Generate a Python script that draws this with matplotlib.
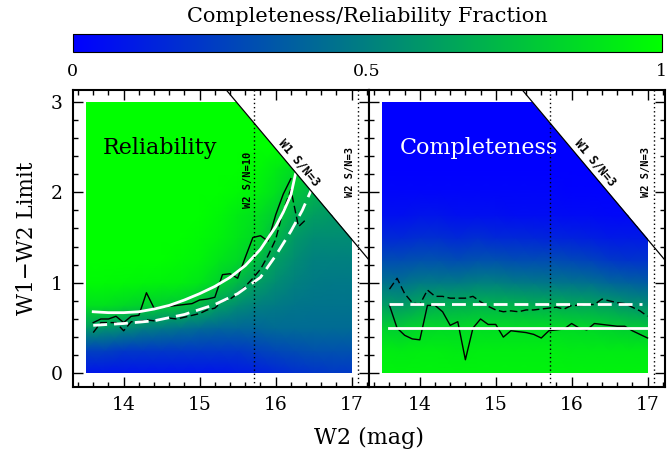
import numpy as np
import matplotlib
matplotlib.use("Agg")
import matplotlib.pyplot as plt
from matplotlib.colors import LinearSegmentedColormap
from matplotlib.patches import Polygon
from matplotlib.ticker import MultipleLocator
from matplotlib.cm import ScalarMappable

# ---- data ----
# heatmap nodes (W2 mag, W1-W2 limit), values in percent
node_x = [13.5, 13.75, 14.0, 14.25, 14.5, 14.75, 15.0, 15.25, 15.5, 15.75, 16.0, 16.25, 16.5, 16.75, 17.0]
node_y = [0.0, 0.25, 0.5, 0.75, 1.0, 1.25, 1.5, 1.75, 2.0, 2.25, 2.5, 2.75, 3.0]

rel_grid = [
    [8, 8, 8, 8, 8, 8, 8, 8, 10, 12, 15, 18, 20, 22, 22],
    [25, 25, 22, 22, 22, 22, 22, 22, 22, 25, 28, 30, 32, 32, 32],
    [60, 58, 55, 50, 48, 45, 42, 40, 40, 40, 42, 42, 42, 42, 42],
    [88, 88, 85, 82, 80, 78, 72, 62, 55, 50, 48, 46, 45, 45, 45],
    [98, 98, 97, 96, 95, 94, 90, 82, 72, 62, 55, 50, 48, 47, 47],
    [100, 100, 100, 100, 100, 98, 96, 90, 85, 75, 62, 55, 50, 50, 50],
    [100, 100, 100, 100, 100, 100, 98, 95, 90, 85, 72, 60, 55, 55, 55],
    [100, 100, 100, 100, 100, 100, 100, 97, 92, 88, 80, 68, 62, 60, 60],
    [100, 100, 100, 100, 100, 100, 100, 100, 98, 95, 88, 78, 70, 65, 65],
    [100, 100, 100, 100, 100, 100, 100, 100, 100, 98, 92, 85, 75, 70, 70],
    [100, 100, 100, 100, 100, 100, 100, 100, 100, 100, 100, 100, 100, 100, 100],
    [100, 100, 100, 100, 100, 100, 100, 100, 100, 100, 100, 100, 100, 100, 100],
    [100, 100, 100, 100, 100, 100, 100, 100, 100, 100, 100, 100, 100, 100, 100],
]

comp_grid = [
    [95, 95, 95, 95, 95, 95, 95, 95, 95, 95, 95, 95, 95, 95, 95],
    [93, 92, 93, 93, 92, 93, 93, 93, 93, 93, 92, 92, 92, 92, 92],
    [82, 80, 84, 85, 85, 86, 86, 86, 86, 86, 85, 84, 82, 80, 78],
    [62, 60, 66, 68, 68, 70, 70, 70, 68, 68, 66, 65, 62, 58, 56],
    [45, 44, 48, 48, 48, 50, 50, 48, 47, 46, 45, 44, 40, 38, 36],
    [30, 30, 32, 32, 30, 32, 32, 30, 30, 30, 28, 26, 22, 20, 20],
    [16, 16, 18, 18, 16, 18, 16, 16, 15, 14, 13, 12, 10, 10, 10],
    [6, 6, 8, 8, 6, 6, 6, 5, 5, 5, 4, 4, 3, 3, 3],
    [2, 2, 2, 2, 2, 2, 2, 2, 2, 2, 1, 1, 1, 1, 1],
    [0, 0, 0, 0, 0, 0, 0, 0, 0, 0, 0, 0, 0, 0, 0],
    [0, 0, 0, 0, 0, 0, 0, 0, 0, 0, 0, 0, 0, 0, 0],
    [0, 0, 0, 0, 0, 0, 0, 0, 0, 0, 0, 0, 0, 0, 0],
    [0, 0, 0, 0, 0, 0, 0, 0, 0, 0, 0, 0, 0, 0, 0],
]

# measured limits (black lines), one point per 0.1 mag bin
rel_x = [13.6, 13.7, 13.8, 13.9, 14.0, 14.1, 14.2, 14.3, 14.4, 14.5, 14.6, 14.7, 14.8, 14.9,
         15.0, 15.1, 15.2, 15.3, 15.4, 15.5, 15.6, 15.7, 15.8, 15.9, 16.0, 16.1, 16.2]
rel_solid = [0.56, 0.60, 0.60, 0.63, 0.56, 0.63, 0.64, 0.89, 0.72, 0.73, 0.74, 0.75, 0.76, 0.77,
             0.81, 0.82, 0.84, 1.09, 1.10, 1.05, 1.28, 1.50, 1.52, 1.46, 1.75, 1.98, 2.15]
rel_dx = [13.6, 13.7, 13.8, 13.9, 14.0, 14.1, 14.2, 14.3, 14.4, 14.5, 14.6, 14.7, 14.8, 14.9, 15.0,
          15.1, 15.2, 15.3, 15.4, 15.5, 15.6, 15.7, 15.8, 15.9, 16.0, 16.1, 16.2, 16.3, 16.4]
rel_dashed = [0.45, 0.56, 0.56, 0.56, 0.47, 0.57, 0.57, 0.59, 0.58, 0.60, 0.61, 0.60, 0.62, 0.64, 0.66,
              0.70, 0.72, 0.80, 0.82, 0.88, 0.96, 1.05, 1.15, 1.30, 1.48, 1.80, 2.03, 1.62, 1.70]

comp_x = [13.6, 13.7, 13.8, 13.9, 14.0, 14.1, 14.2, 14.3, 14.4, 14.5, 14.6, 14.7, 14.8, 14.9, 15.0, 15.1, 15.2, 15.3,
          15.4, 15.5, 15.6, 15.7, 15.8, 15.9, 16.0, 16.1, 16.2, 16.3, 16.4, 16.5, 16.6, 16.7, 16.8, 16.9, 17.0]
comp_solid = [0.75, 0.50, 0.42, 0.38, 0.37, 0.75, 0.75, 0.68, 0.53, 0.57, 0.15, 0.50, 0.60, 0.54, 0.54, 0.40, 0.47, 0.46,
              0.45, 0.43, 0.39, 0.47, 0.48, 0.49, 0.55, 0.50, 0.48, 0.55, 0.54, 0.53, 0.52, 0.52, 0.47, 0.43, 0.39]
comp_dashed = [0.93, 1.05, 0.88, 0.78, 0.76, 0.92, 0.85, 0.85, 0.83, 0.83, 0.83, 0.85, 0.79, 0.74, 0.70, 0.68, 0.69, 0.68,
               0.70, 0.70, 0.71, 0.72, 0.73, 0.71, 0.75, 0.75, 0.76, 0.76, 0.82, 0.80, 0.78, 0.77, 0.73, 0.69, 0.63]

# adopted limits (white lines)
fit_x = [13.6, 13.8, 14.0, 14.2, 14.4, 14.6, 14.8, 15.0, 15.2, 15.4, 15.6, 15.8, 16.0, 16.1, 16.2, 16.26]
fit_solid = [0.68, 0.67, 0.67, 0.68, 0.71, 0.75, 0.81, 0.88, 0.96, 1.06, 1.19, 1.37, 1.62, 1.78, 1.97, 2.2]
fitd_x = [13.6, 14.0, 14.4, 14.8, 15.2, 15.5, 15.8, 16.0, 16.2, 16.35, 16.47]
fit_dashed = [0.53, 0.55, 0.58, 0.65, 0.76, 0.88, 1.06, 1.30, 1.57, 1.80, 2.03]
comp_lim_x = [13.6, 17.0]
comp_lim_solid = [0.50, 0.50]
comp_limd_x = [13.6, 16.93]
comp_lim_dashed = [0.77, 0.77]

w1_limit = 18.48      # W1 S/N=3: W1-W2 = w1_limit - W2
w2_sn10 = 15.72
w2_sn3 = 17.08

plt.rcParams['font.family'] = ['DejaVu Serif']
cmap = LinearSegmentedColormap.from_list('bg', ['#0000ff', '#00ff00'])
small = dict(family='DejaVu Sans Mono', fontweight='bold', zorder=5)

fig = plt.figure(figsize=(6.67, 4.59), dpi=100)
ax1 = fig.add_axes([0.109, 0.1575, 0.4445, 0.6465])
ax2 = fig.add_axes([0.5532, 0.1575, 0.4438, 0.6465])
cax = fig.add_axes([0.109, 0.8867, 0.883, 0.0392])

X, Y = np.meshgrid(node_x, node_y)
clip = [(13.5, 0.0), (17.0, 0.0), (17.0, w1_limit - 17.0), (w1_limit - 3.0, 3.0), (13.5, 3.0)]
line_x = np.array([13.0, 17.5])

for ax, grid in [(ax1, rel_grid), (ax2, comp_grid)]:
    mesh = ax.pcolormesh(X, Y, np.array(grid) / 100.0, cmap=cmap, vmin=0, vmax=1,
                         shading='gouraud', zorder=1)
    poly = Polygon(clip, closed=True, transform=ax.transData)
    mesh.set_clip_path(poly)
    ax.plot(line_x, w1_limit - line_x, color='black', lw=0.9, zorder=4)
    ax.axvline(w2_sn10, color='black', ls=(0, (1, 2)), lw=1.0, zorder=4)
    ax.axvline(w2_sn3, color='black', ls=(0, (1, 2)), lw=1.0, zorder=4)
    ax.set_xlim(13.33, 17.23)
    ax.set_ylim(-0.148, 3.13)
    ax.xaxis.set_major_locator(MultipleLocator(1))
    ax.xaxis.set_minor_locator(MultipleLocator(0.2))
    ax.yaxis.set_major_locator(MultipleLocator(1))
    ax.yaxis.set_minor_locator(MultipleLocator(0.2))
    ax.tick_params(which='both', direction='in', top=True, right=True, width=1)
    ax.tick_params(which='major', length=7.5, labelsize=13.5, pad=7)
    ax.tick_params(which='minor', length=3.8)
    for s in ax.spines.values():
        s.set_linewidth(1.5)
    ax.text(16.98, 1.95, 'W2 S/N=3', rotation=90, ha='center', va='bottom', fontsize=7.5, **small)
    ax.text(16.31, 2.33, 'W1 S/N=3', rotation=-50, ha='center', va='center',
            rotation_mode='anchor', fontsize=8.5, **small)

ax2.tick_params(labelleft=False)

# reliability panel
ax1.text(15.63, 1.83, 'W2 S/N=10', rotation=90, ha='center', va='bottom', fontsize=7.5, **small)
ax1.plot(rel_x, rel_solid, color='black', lw=1.0, zorder=3)
ax1.plot(rel_dx, rel_dashed, color='black', lw=1.0, ls=(0, (5.5, 2.5)), zorder=3)
ax1.plot(fit_x, fit_solid, color='white', lw=2.0, zorder=3)
ax1.plot(fitd_x, fit_dashed, color='white', lw=2.0, ls=(0, (5, 2.5)), zorder=3)
ax1.text(13.73, 2.49, 'Reliability', color='black', fontsize=16, ha='left', va='center')

# completeness panel
ax2.plot(comp_x, comp_solid, color='black', lw=1.0, zorder=3)
ax2.plot(comp_x, comp_dashed, color='black', lw=1.0, ls=(0, (5.5, 2.5)), zorder=3)
ax2.plot(comp_lim_x, comp_lim_solid, color='white', lw=2.0, zorder=3)
ax2.plot(comp_limd_x, comp_lim_dashed, color='white', lw=2.0, ls=(0, (5, 2.5)), zorder=3)
ax2.text(13.74, 2.49, 'Completeness', color='white', fontsize=16, ha='left', va='center')

# colour bar
cb = fig.colorbar(ScalarMappable(cmap=cmap, norm=plt.Normalize(0, 1)), cax=cax, orientation='horizontal')
cb.set_ticks([0, 0.5, 1])
cb.set_ticklabels(['0', '0.5', '1'])
cb.ax.tick_params(length=0, labelsize=12.5, pad=8)
cb.outline.set_linewidth(0.8)
fig.text(0.551, 0.963, 'Completeness/Reliability Fraction', ha='center', va='center', fontsize=15)

fig.text(0.553, 0.046, 'W2 (mag)', ha='center', va='center', fontsize=16)
fig.text(0.04, 0.481, 'W1\u2212W2 Limit', ha='center', va='center', rotation=90, fontsize=15.5)

fig.savefig('out.png', dpi=100)
